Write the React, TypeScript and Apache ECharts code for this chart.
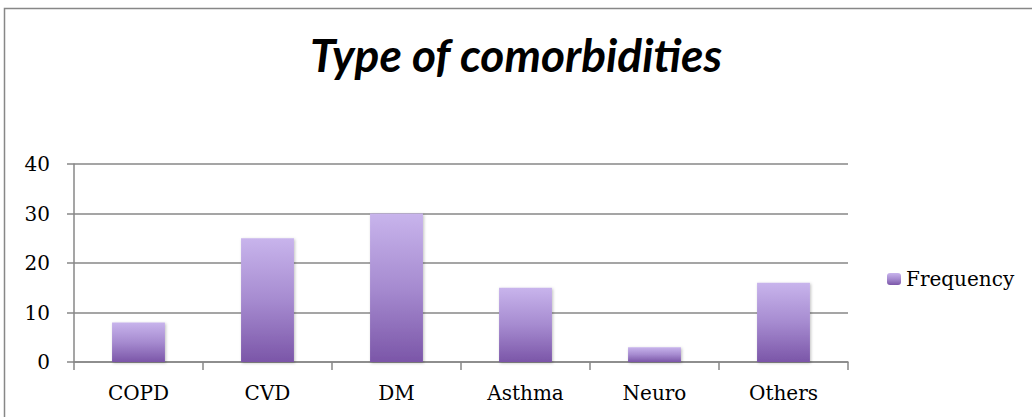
import React, { useEffect, useRef } from "react";
import * as echarts from "echarts";

const categories = ["COPD", "CVD", "DM", "Asthma", "Neuro", "Others"];
const frequency = [8, 25, 30, 15, 3, 16];
const seriesName = "Frequency";
const titleText = "Type of comorbidities";

export default function App() {
  const ref = useRef<HTMLDivElement>(null);
  useEffect(() => {
    const chart = echarts.init(ref.current!, null, { renderer: "svg" });
    const grad = new echarts.graphic.LinearGradient(0, 0, 0, 1, [
      { offset: 0, color: "#c8b4ec" },
      { offset: 0.5, color: "#a68bd0" },
      { offset: 1, color: "#7b56a8" },
    ]);
    const serif = "DejaVu Serif";
    chart.setOption({
      animation: false,
      backgroundColor: "#ffffff",
      title: {
        text: titleText,
        left: "center",
        top: 26,
        textStyle: {
          fontFamily: "Lato",
          fontStyle: "italic",
          fontWeight: "bold",
          fontSize: 46,
          color: "#000",
        },
      },
      graphic: [
        {
          type: "rect",
          shape: { x: 4.5, y: 8.5, width: 1040, height: 420 },
          style: { fill: "none", stroke: "#878787", lineWidth: 1.5 },
        },
      ],
      legend: {
        left: 882,
        top: 264,
        itemWidth: 14,
        itemHeight: 12,
        itemGap: 4,
        data: [seriesName],
        textStyle: { fontFamily: serif, fontSize: 20, color: "#000" },
      },
      grid: { left: 74, right: 184, top: 164, bottom: 55 },
      xAxis: {
        type: "category",
        data: categories,
        axisLine: { lineStyle: { color: "#878787", width: 1.5 } },
        axisTick: { show: true, alignWithLabel: false, length: 8, lineStyle: { color: "#878787", width: 1.5 } },
        axisLabel: { fontFamily: serif, fontSize: 20, color: "#000", margin: 21 },
      },
      yAxis: {
        type: "value",
        min: 0,
        max: 40,
        interval: 10,
        axisLine: { show: true, lineStyle: { color: "#878787", width: 1.5 } },
        axisTick: { show: true, length: 7, lineStyle: { color: "#878787", width: 1.5 } },
        splitLine: { lineStyle: { color: "#878787", width: 1.5 } },
        axisLabel: { fontFamily: serif, fontSize: 20, color: "#000", margin: 24 },
      },
      series: [
        {
          name: seriesName,
          type: "bar",
          data: frequency,
          barWidth: "41%",
          itemStyle: {
            color: grad,
            shadowColor: "rgba(0,0,0,0.25)",
            shadowBlur: 3,
            shadowOffsetX: 1,
            shadowOffsetY: 1,
          },
        },
      ],
    });
    return () => chart.dispose();
  }, []);
  return (
    <div
      ref={ref}
      style={{ position: "absolute", left: 0, top: 0, width: 1032, height: 417 }}
    />
  );
}
